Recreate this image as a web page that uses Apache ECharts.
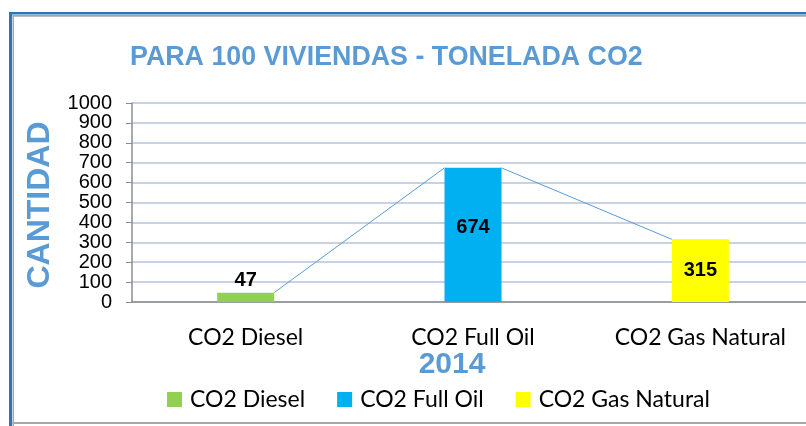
<!DOCTYPE html>
<html>
<head>
<meta charset="utf-8">
<script src="https://cdn.jsdelivr.net/npm/echarts@6/dist/echarts.min.js"></script>
<style>
  html, body { margin: 0; padding: 0; background: #fff; overflow: hidden; }
  /* the chart frame runs past the right edge of the window */
  #chart { width: 814px; height: 426px; }
</style>
</head>
<body>
<div id="chart"></div>
<script>
// Emissions for 100 dwellings, tonnes of CO2 (2014)
const categories = ['CO2 Diesel', 'CO2 Full Oil', 'CO2 Gas Natural'];
const seriesNames = ['CO2 Diesel', 'CO2 Full Oil', 'CO2 Gas Natural'];
const values = [47, 674, 315];
const colors = ['#92D050', '#00B0F0', '#FFFF00'];
const yTicks = { min: 0, max: 1000, interval: 100 };

const BAR_W = 57;
const LABEL_FONT = 'Lato, "Open Sans", sans-serif';

// one stacked series per fuel, each holding a value only in its own category
const barSeries = seriesNames.map((name, i) => ({
  name: name,
  type: 'bar',
  stack: 'total',
  barWidth: BAR_W,
  itemStyle: { color: colors[i] },
  data: categories.map((c, j) => (j === i ? values[i] : '-')),
  label: {
    show: true,
    position: i === 0 ? 'top' : 'inside',
    offset: i === 1 ? [0, -7] : [0, 0],
    distance: 2,
    color: '#000',
    fontFamily: '"Liberation Sans", Arial, sans-serif',
    fontWeight: 'bold',
    fontSize: 20
  }
}));

// series lines joining the top edges of consecutive columns
const seriesLines = {
  type: 'custom',
  silent: true,
  z: 5,
  data: values.map((v, i) => [i, v]),
  renderItem: function (params, api) {
    const i = params.dataIndex;
    if (i >= values.length - 1) return null;
    const a = api.coord([i, values[i]]);
    const b = api.coord([i + 1, values[i + 1]]);
    const hw = BAR_W / 2;
    return {
      type: 'line',
      shape: { x1: a[0] + hw, y1: a[1], x2: b[0] - hw, y2: b[1] },
      style: { stroke: '#5B9BD5', lineWidth: 1 }
    };
  }
};

const chart = echarts.init(document.getElementById('chart'), null, { renderer: 'canvas' });
chart.setOption({
  animation: false,
  backgroundColor: '#fff',
  title: [
    {
      text: 'PARA 100 VIVIENDAS - TONELADA CO2',
      left: 125,
      top: 39,
      textStyle: {
        fontFamily: '"Liberation Sans", Arial, sans-serif',
        fontWeight: 'bold',
        fontSize: 26.8,
        color: '#5B9BD5'
      }
    },
    {
      text: '2014',
      left: 447,
      top: 345,
      textAlign: 'center',
      textStyle: {
        fontFamily: '"Liberation Sans", Arial, sans-serif',
        fontWeight: 'bold',
        fontSize: 30,
        color: '#5B9BD5'
      }
    }
  ],
  graphic: [
    { type: 'rect', shape: { x: 9, y: 12, width: 3, height: 414 }, style: { fill: '#2E75B6' } },
    { type: 'rect', shape: { x: 9, y: 12, width: 805, height: 2.5 }, style: { fill: '#2E75B6' } },
    { type: 'rect', shape: { x: 12.5, y: 15, width: 1.5, height: 411 }, style: { fill: '#A6A6A6' } },
    { type: 'rect', shape: { x: 12.5, y: 15, width: 802, height: 1.8 }, style: { fill: '#A6A6A6' } },
    { type: 'rect', shape: { x: 12.5, y: 422, width: 802, height: 2 }, style: { fill: '#A6A6A6' } },
    {
      type: 'text',
      x: 40,
      y: 205,
      rotation: Math.PI / 2,
      style: {
        text: 'CANTIDAD',
        fontFamily: '"Liberation Sans", Arial, sans-serif',
        fontWeight: 'bold',
        fontSize: 32,
        fill: '#5B9BD5',
        align: 'center',
        verticalAlign: 'middle'
      }
    }
  ],
  legend: {
    data: seriesNames,
    left: 162,
    top: 383,
    icon: 'rect',
    itemWidth: 15,
    itemHeight: 15,
    itemGap: 32,
    textStyle: { fontFamily: LABEL_FONT, fontSize: 23, color: '#000', padding: [0, 0, 0, 3] }
  },
  grid: { left: 132, top: 103, width: 682, height: 199, containLabel: false },
  xAxis: {
    type: 'category',
    data: categories,
    axisLine: { lineStyle: { color: '#8C8C8C', width: 1.5 } },
    axisTick: { show: false },
    axisLabel: { fontFamily: LABEL_FONT, fontSize: 23, color: '#000', margin: 24 }
  },
  yAxis: {
    type: 'value',
    min: yTicks.min,
    max: yTicks.max,
    interval: yTicks.interval,
    axisLine: { show: true, lineStyle: { color: '#8C8C8C', width: 1.5 } },
    axisTick: { show: true, length: 6, lineStyle: { color: '#8C8C8C' } },
    splitLine: { lineStyle: { color: '#B4C3DC', width: 1.5 } },
    axisLabel: {
      fontFamily: '"Liberation Sans", Arial, sans-serif',
      fontSize: 20,
      color: '#000',
      margin: 20,
      formatter: (v) => String(v)
    }
  },
  series: barSeries.concat([seriesLines])
});
</script>
</body>
</html>
